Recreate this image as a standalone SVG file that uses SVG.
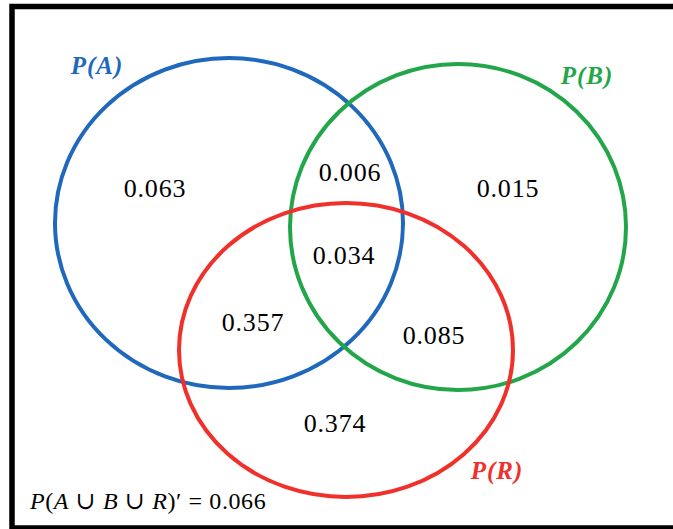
<svg xmlns="http://www.w3.org/2000/svg" width="673" height="529" viewBox="0 0 673 529">
<style>
.c{fill:none;stroke-width:4}
.n{font-family:"Liberation Serif","DejaVu Serif",serif;font-size:26px;fill:#000;text-anchor:middle;letter-spacing:0.8px}
.l{font-family:"Liberation Serif","DejaVu Serif",serif;font-size:25px;font-weight:bold;font-style:italic;letter-spacing:1px}
.f{font-family:"Liberation Serif","DejaVu Serif",serif;font-size:24px;fill:#000;letter-spacing:0.6px}
</style>
<rect width="673" height="529" fill="#fff"/>
<rect x="12" y="6.5" width="700" height="521.5" fill="none" stroke="#000" stroke-width="5.5"/>
<g id="A">
<ellipse class="c" cx="229" cy="223" rx="174" ry="165" stroke="#1f68bc"/>
<text class="l" x="97" y="74" fill="#1f68bc" text-anchor="middle">P(A)</text>
</g>
<g id="B">
<ellipse class="c" cx="458" cy="227" rx="168" ry="163" stroke="#23a64a"/>
<text class="l" x="587" y="84" fill="#23a64a" text-anchor="middle">P(B)</text>
</g>
<g id="R">
<ellipse class="c" cx="346" cy="350" rx="167" ry="147" stroke="#f0302a"/>
<text class="l" x="497" y="479" fill="#f0302a" text-anchor="middle">P(R)</text>
</g>
<g id="values">
<text class="n" x="155" y="197">0.063</text>
<text class="n" x="350" y="181">0.006</text>
<text class="n" x="508" y="197">0.015</text>
<text class="n" x="344" y="264">0.034</text>
<text class="n" x="253" y="331">0.357</text>
<text class="n" x="434" y="344">0.085</text>
<text class="n" x="335" y="432">0.374</text>
</g>
<g id="complement">
<text class="f" x="30" y="509"><tspan font-style="italic">P</tspan>(<tspan font-style="italic">A</tspan> ∪ <tspan font-style="italic">B</tspan> ∪ <tspan font-style="italic">R</tspan>)′ = 0.066</text>
</g>
</svg>
